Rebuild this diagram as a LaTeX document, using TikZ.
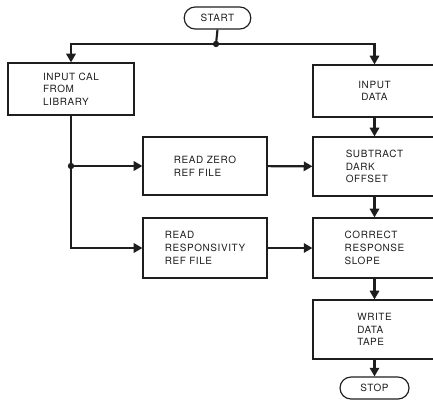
\documentclass[tikz,border=0pt]{standalone}
\usepackage{fontspec}
\setmainfont{TeX Gyre Heros}[LetterSpace=6]
\usetikzlibrary{arrows.meta}
\definecolor{inkGray}{RGB}{30,30,30}

\begin{document}
\begin{tikzpicture}[
  x=0.03cm, y=-0.03cm,
  font=\fontsize{8.5}{10.8}\selectfont,
  box/.style={draw=inkGray, line width=1pt, align=left, text=inkGray,
              minimum width=3.72cm, minimum height=1.74cm, inner sep=2pt},
  term/.style={draw=inkGray, line width=1pt, rounded corners=0.33cm, text=inkGray,
              minimum width=2cm, minimum height=0.66cm, inner sep=2pt},
  arr/.style={-{Triangle[length=2.6mm,width=2.8mm]}, line width=1.8pt, inkGray},
  wire/.style={line width=1.8pt, inkGray},
  dot/.style={circle, fill=inkGray, inner sep=0pt, minimum size=1.9mm}
]
\useasboundingbox (0,0) rectangle (433,401);
\clip (0,0) rectangle (433,401);

\node[term] (start) at (217.5,18) {START};

\node[box, minimum width=3.78cm, minimum height=1.56cm] (cal) at (71,89)
  {INPUT CAL\\FROM\\LIBRARY};
\node[box, minimum width=3.69cm, minimum height=1.56cm, align=center] (data) at (374.5,91)
  {INPUT\\DATA};

\node[box] (zero) at (205,166) {READ ZERO\\REF FILE};
\node[box, minimum width=3.69cm, minimum height=1.77cm] (dark) at (374.5,166.5)
  {SUBTRACT\\DARK\\OFFSET};

\node[box, minimum height=1.8cm] (resp) at (205,248) {READ\\RESPONSIVITY\\REF FILE};
\node[box, minimum width=3.69cm, minimum height=1.8cm] (slope) at (374.5,248)
  {CORRECT\\RESPONSE\\SLOPE};

\node[box, minimum width=3.69cm, minimum height=1.77cm] (tape) at (374.5,329.5)
  {WRITE\\DATA\\TAPE};
\node[term, minimum width=2.07cm] (stop) at (374.5,388) {STOP};

% split after start
\node[dot] (j1) at (216,44) {};
\draw[wire] (start.south) -- (j1.center);
\draw[arr] (j1.center) -| (cal.north);
\draw[arr] (j1.center) -| (data.north);

% calibration branch
\node[dot] (j2) at (cal.south |- zero.west) {};
\draw[wire] (cal.south) -- (j2.center);
\draw[arr] (j2.center) -- (zero.west);
\draw[arr] (j2.center) |- (resp.west);
\draw[arr] (zero) -- (dark);
\draw[arr] (resp) -- (slope);

% main column
\draw[arr] (data) -- (dark);
\draw[arr] (dark) -- (slope);
\draw[arr] (slope) -- (tape);
\draw[arr] (tape) -- (stop);

\end{tikzpicture}
\end{document}
